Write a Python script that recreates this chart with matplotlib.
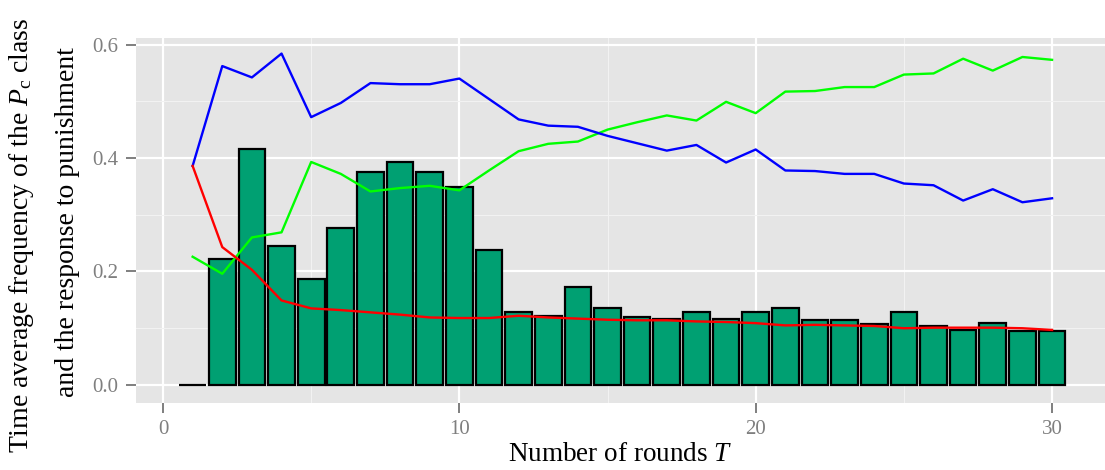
import numpy as np
import matplotlib
matplotlib.use("Agg")
import matplotlib.pyplot as plt
from matplotlib.ticker import MultipleLocator

rounds = np.arange(1, 31)

# time average frequency of the P_c class (bars)
freq_pc = [0.0, 0.222, 0.415, 0.245, 0.187, 0.277, 0.376, 0.393, 0.376, 0.349,
           0.237, 0.128, 0.121, 0.172, 0.136, 0.120, 0.116, 0.129, 0.117, 0.128,
           0.136, 0.115, 0.115, 0.107, 0.129, 0.104, 0.097, 0.109, 0.095, 0.095]

# response to punishment
blue_vals = [0.386, 0.562, 0.542, 0.584, 0.472, 0.497, 0.532, 0.530, 0.530, 0.540,
             0.504, 0.468, 0.457, 0.455, 0.439, 0.426, 0.413, 0.423, 0.392, 0.415,
             0.378, 0.377, 0.372, 0.372, 0.355, 0.352, 0.325, 0.345, 0.322, 0.329]
green_vals = [0.226, 0.196, 0.260, 0.269, 0.393, 0.372, 0.341, 0.347, 0.351, 0.343,
              0.378, 0.412, 0.425, 0.429, 0.450, 0.463, 0.475, 0.466, 0.499, 0.479,
              0.517, 0.518, 0.525, 0.525, 0.547, 0.549, 0.575, 0.554, 0.578, 0.573]
red_vals = [0.386, 0.243, 0.203, 0.149, 0.135, 0.132, 0.128, 0.124, 0.119, 0.118,
            0.118, 0.122, 0.119, 0.117, 0.115, 0.114, 0.114, 0.112, 0.111, 0.109,
            0.105, 0.106, 0.105, 0.104, 0.100, 0.101, 0.101, 0.101, 0.100, 0.097]

plt.rcParams['font.family'] = ['Liberation Serif', 'DejaVu Serif']
plt.rcParams['mathtext.fontset'] = 'custom'
plt.rcParams['mathtext.rm'] = 'Liberation Serif'
plt.rcParams['mathtext.it'] = 'Liberation Serif:italic'

fig = plt.figure(figsize=(11.05, 4.7), dpi=100)
ax = fig.add_axes([0.1231, 0.1426, 0.877, 0.7766])
ax.set_facecolor('#E5E5E5')

ax.bar(rounds, freq_pc, width=0.9, color='#00A072', edgecolor='black',
       linewidth=1.6, zorder=3)
ax.plot(rounds, green_vals, color='#00FF00', lw=1.7, zorder=4)
ax.plot(rounds, blue_vals, color='#0000FF', lw=1.7, zorder=4)
ax.plot(rounds, red_vals, color='#FF0000', lw=1.7, zorder=4)

ax.set_xlim(-0.91, 31.79)
ax.set_ylim(-0.0317, 0.6115)
ax.xaxis.set_major_locator(MultipleLocator(10))
ax.xaxis.set_minor_locator(MultipleLocator(5))
ax.yaxis.set_major_locator(MultipleLocator(0.2))
ax.yaxis.set_minor_locator(MultipleLocator(0.1))
ax.yaxis.set_major_formatter(plt.FuncFormatter(lambda v, p: f"{v:.1f}"))

ax.grid(which='major', color='white', lw=1.6, zorder=1)
ax.grid(which='minor', color='#F2F2F2', lw=0.8, zorder=1)
for s in ax.spines.values():
    s.set_visible(False)

ax.tick_params(which='major', length=7.5, width=1.4, color='#7F7F7F',
               labelcolor='#7F7F7F', labelsize=15)
ax.tick_params(axis='y', pad=5)
ax.tick_params(axis='x', pad=5)
ax.tick_params(which='minor', length=0)

ax.set_xlabel('Number of rounds $T$', fontsize=19.5, labelpad=2)

# two-line y label, each line placed on its own
fig.text(22 / 1105, 1 - 235 / 470,
         'Time average frequency of the $P_{\\mathrm{c}}$ class',
         rotation=90, ha='center', va='center', fontsize=20)
fig.text(68 / 1105, 1 - 222 / 470, 'and the response to punishment',
         rotation=90, ha='center', va='center', fontsize=20)

fig.savefig('out.png', dpi=100)
